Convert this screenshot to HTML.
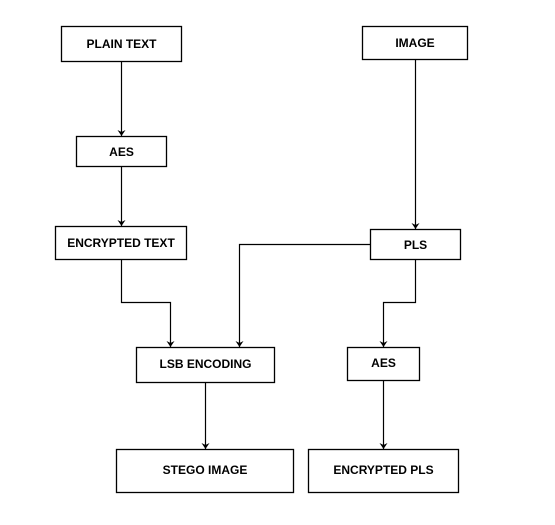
<!DOCTYPE html>
<html><head><style>
body{margin:0;background:#fff}
svg text{font-family:"Liberation Sans",Arial,sans-serif;font-weight:bold;font-size:12px;text-anchor:middle;dominant-baseline:central;fill:#000}
</style></head><body>
<svg width="555" height="520" viewBox="0 0 555 520" xmlns="http://www.w3.org/2000/svg">
<defs><marker id="a" markerWidth="8" markerHeight="8" refX="7" refY="4" orient="auto" markerUnits="userSpaceOnUse"><path d="M1,0 L7,4 L1,8 L3,4 Z" fill="#000"/></marker></defs>
<g fill="#fff" stroke="#000" stroke-width="1.3">
<rect x="61.5" y="26.5" width="120" height="35"/>
<rect x="362.5" y="26.5" width="105" height="33"/>
<rect x="76.5" y="136.5" width="90" height="30"/>
<rect x="55.5" y="226.5" width="131" height="33"/>
<rect x="370.5" y="229.5" width="90" height="30"/>
<rect x="136.5" y="347.5" width="138" height="35"/>
<rect x="347.5" y="347.5" width="72" height="33"/>
<rect x="116.5" y="449.5" width="177" height="43"/>
<rect x="308.5" y="449.5" width="150" height="43"/>
</g>
<g fill="none" stroke="#000" stroke-width="1.2" marker-end="url(#a)">
<path d="M121.5 62V136"/>
<path d="M121.5 167V226"/>
<path d="M121.5 260V302.5H170.5V347"/>
<path d="M370 244.5H239.5V347"/>
<path d="M415.5 260V302.5H383.5V347"/>
<path d="M415.5 60V229"/>
<path d="M383.5 381V449"/>
<path d="M205.5 383V449"/>
</g>
<text x="121.5" y="44">PLAIN TEXT</text>
<text x="415" y="43">IMAGE</text>
<text x="121.5" y="152">AES</text>
<text x="121" y="243">ENCRYPTED TEXT</text>
<text x="415.5" y="245">PLS</text>
<text x="205.5" y="364">LSB ENCODING</text>
<text x="383.5" y="363">AES</text>
<text x="205" y="470">STEGO IMAGE</text>
<text x="383.5" y="470">ENCRYPTED PLS</text>
</svg>
</body></html>
